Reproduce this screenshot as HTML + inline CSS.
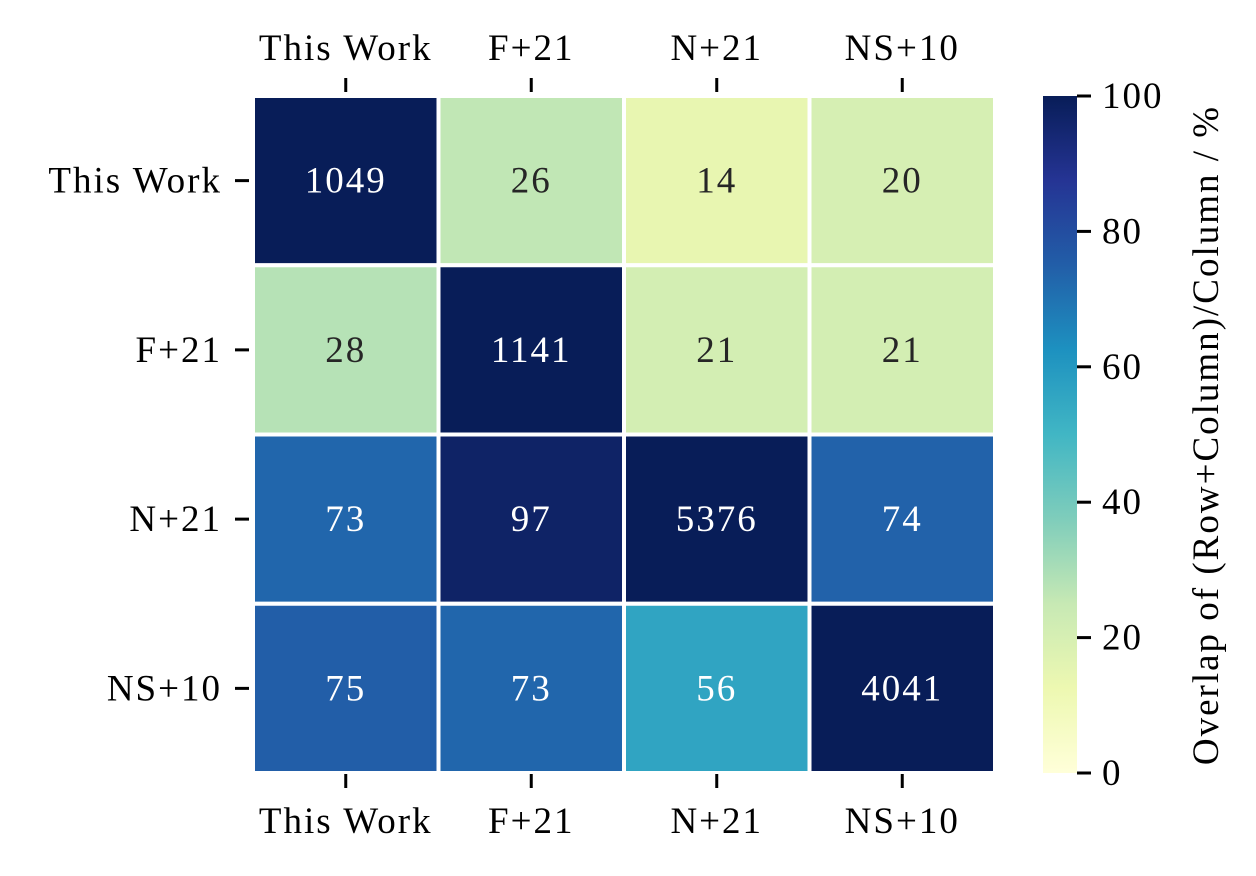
<!DOCTYPE html>
<html><head><meta charset="utf-8"><style>
html,body{margin:0;padding:0;background:#fff;}
svg text{font-family:"Liberation Serif","DejaVu Serif",serif;letter-spacing:2px;}
</style></head><body>
<svg id="chart" width="1256" height="871" viewBox="0 0 1256 871" xmlns="http://www.w3.org/2000/svg">
<defs><linearGradient id="cbgrad" x1="0" y1="1" x2="0" y2="0"></linearGradient></defs>
<g id="cells"></g>
<g id="axes"></g>
<g id="cbar"></g>
</svg>
<script>
const categories = ["This Work","F+21","N+21","NS+10"];
const counts = [[1049,26,14,20],[28,1141,21,21],[73,97,5376,74],[75,73,56,4041]];
const percents = [[100,26,14,20],[28,100,21,21],[73,97,100,74],[75,73,56,100]];
const cbTicks = [0,20,40,60,80,100];

const NS="http://www.w3.org/2000/svg";
const FS=37;
const stops=[[0,"#ffffd9"],[0.125,"#edf8b1"],[0.25,"#c7e9b4"],[0.375,"#7fcdbb"],[0.5,"#41b6c4"],[0.625,"#1d91c0"],[0.75,"#225ea8"],[0.875,"#253494"],[1,"#081d58"]];
function hex(h){return [1,3,5].map(i=>parseInt(h.substr(i,2),16));}
function cmap(v){let t=Math.max(0,Math.min(1,v/100));for(let i=1;i<stops.length;i++){if(t<=stops[i][0]){const a=stops[i-1],b=stops[i];const f=(t-a[0])/(b[0]-a[0]);const ca=hex(a[1]),cb=hex(b[1]);return "rgb("+ca.map((c,k)=>Math.round(c+(cb[k]-c)*f)).join(",")+")";}}return stops[8][1];}
function mk(tag,attrs,parent){const e=document.createElementNS(NS,tag);for(const k in attrs)e.setAttribute(k,attrs[k]);parent.appendChild(e);return e;}
const X0=253,X1=995,Y0=96,Y1=773;
const cw=(X1-X0)/categories.length, ch=(Y1-Y0)/categories.length;
const xPos=j=>X0+j*cw, yPos=i=>Y0+i*ch;
const cells=document.getElementById('cells'), axes=document.getElementById('axes'), cbar=document.getElementById('cbar');
for(let i=0;i<categories.length;i++)for(let j=0;j<categories.length;j++){
  const r=mk('rect',{x:xPos(j),y:yPos(i),width:cw,height:ch,fill:cmap(percents[i][j]),stroke:"#fff","stroke-width":4},cells);
  
  
  const t=mk('text',{x:xPos(j)+cw/2,y:yPos(i)+ch/2+12,"text-anchor":"middle","font-size":FS,fill:percents[i][j]>50?"#fff":"#262626"},cells);
  t.textContent=counts[i][j];
  
  
}
categories.forEach((c,j)=>{
  const cx=xPos(j)+cw/2;
  mk('line',{x1:cx,x2:cx,y1:Y0-18,y2:Y0-4,stroke:"#000","stroke-width":3},axes);
  mk('line',{x1:cx,x2:cx,y1:Y1+1,y2:Y1+15,stroke:"#000","stroke-width":3},axes);
  const t1=mk('text',{x:cx,y:Y0-36,"text-anchor":"middle","font-size":FS},axes);t1.textContent=c;
  
  
  const t2=mk('text',{x:cx,y:Y1+60,"text-anchor":"middle","font-size":FS},axes);t2.textContent=c;
  
  
  const cy=yPos(j)+ch/2;
  mk('line',{x1:X0-18,x2:X0-4,y1:cy,y2:cy,stroke:"#000","stroke-width":3},axes);
  const t3=mk('text',{x:X0-31,y:cy+12,"text-anchor":"end","font-size":FS},axes);t3.textContent=c;
  
  
});
const CX0=1043,CX1=1077;
const g=document.getElementById('cbgrad');
stops.forEach(s=>mk('stop',{offset:s[0],"stop-color":s[1]},g));
const cbr=mk('rect',{x:CX0,y:Y0,width:CX1-CX0,height:Y1-Y0,fill:"url(#cbgrad)"},cbar);


const cbY=v=>Y1-(v/100)*(Y1-Y0);
cbTicks.forEach(v=>{
  mk('line',{x1:CX1,x2:CX1+14,y1:cbY(v),y2:cbY(v),stroke:"#000","stroke-width":3},cbar);
  const t=mk('text',{x:CX1+25,y:cbY(v)+12,"font-size":FS},cbar);t.textContent=v;
  
  
});
const lab=mk('text',{x:0,y:0,"text-anchor":"middle","font-size":FS,transform:"translate(1218,435) rotate(-90)"},cbar);
lab.textContent="Overlap of (Row+Column)/Column / %";


</script>
</body></html>
